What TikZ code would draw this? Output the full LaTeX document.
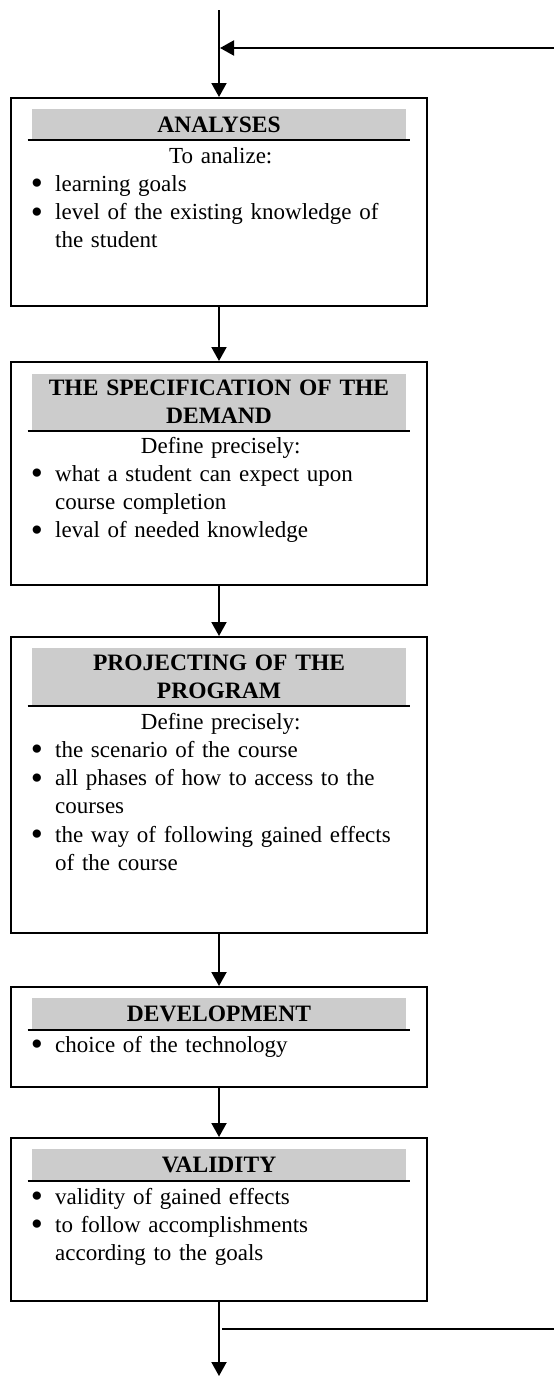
\documentclass[tikz,border=0pt]{standalone}
\usepackage{fontspec}
\setmainfont{Liberation Serif}
\usepackage{graphicx}
\usetikzlibrary{arrows.meta}
\usepackage{xcolor}
\definecolor{hdgray}{HTML}{CCCCCC}
\newcommand{\bitem}[1]{\noindent\hangindent=23.4pt\hangafter=1\makebox[23.4pt][l]{\hspace{-1pt}\smash{\raisebox{-3.5pt}{\scalebox{1.5}{\textbullet}}}}#1\par}

\tikzset{
  stage/.style={draw, line width=2pt, minimum width=416pt, inner sep=0pt},
  headbar/.style={fill=hdgray, text width=374.4pt, align=center, inner sep=0pt, font=\fontsize{23.5}{28.3}\selectfont\bfseries},
  body/.style={text width=378pt, align=left, inner sep=0pt, anchor=base west},
  rule/.style={line width=1.7pt},
  flow/.style={line width=2pt, -{Triangle[length=14pt, width=15pt]}},
  back/.style={line width=1.4pt},
}

\begin{document}
\begin{tikzpicture}[x=1pt, y=1pt, font=\fontsize{23}{28.3}\selectfont]
  \useasboundingbox (0,0) rectangle (554,-1376);

  \node[stage, minimum height=208pt] (analyses) at (219,-202) {};
  \node[headbar, minimum height=31pt] (analysesHead) at (219,-124.5) {ANALYSES};
  \draw[rule] ([xshift=-4pt]analysesHead.south west) -- ([xshift=4pt]analysesHead.south east);
  \node[body] (analysesText) at (31.6,-163) {{\centering To analize:\par}\bitem{learning goals}\bitem{level of the existing knowledge of\newline the student}};

  \node[stage, minimum height=223pt] (specification) at (219,-473.5) {};
  \node[headbar, minimum height=57pt] (specificationHead) at (219,-402) {THE SPECIFICATION OF THE\\ DEMAND};
  \draw[rule] ([xshift=-4pt]specificationHead.south west) -- ([xshift=4pt]specificationHead.south east);
  \node[body] (specificationText) at (31.6,-453) {{\centering Define precisely:\par}\bitem{what a student can expect upon\newline course completion}\bitem{leval of needed knowledge}};

  \node[stage, minimum height=296pt] (projecting) at (219,-785) {};
  \node[headbar, minimum height=58pt] (projectingHead) at (219,-677) {PROJECTING OF THE\\ PROGRAM};
  \draw[rule] ([xshift=-4pt]projectingHead.south west) -- ([xshift=4pt]projectingHead.south east);
  \node[body] (projectingText) at (31.6,-729) {{\centering Define precisely:\par}\bitem{the scenario of the course}\bitem{all phases of how to access to the\newline courses}\bitem{the way of following gained effects\newline of the course}};

  \node[stage, minimum height=100pt] (development) at (219,-1037) {};
  \node[headbar, minimum height=32pt] (developmentHead) at (219,-1013.5) {DEVELOPMENT};
  \draw[rule] ([xshift=-4pt]developmentHead.south west) -- ([xshift=4pt]developmentHead.south east);
  \node[body] (developmentText) at (31.6,-1052) {\bitem{choice of the technology}};

  \node[stage, minimum height=163pt] (validity) at (219,-1219.5) {};
  \node[headbar, minimum height=32pt] (validityHead) at (219,-1165) {VALIDITY};
  \draw[rule] ([xshift=-4pt]validityHead.south west) -- ([xshift=4pt]validityHead.south east);
  \node[body] (validityText) at (31.6,-1204) {\bitem{validity of gained effects}\bitem{to follow accomplishments\newline according to the goals}};

  \coordinate (entry) at (219,-10);
  \coordinate (loopin) at (554,-48);
  \coordinate (exit) at (219,-1376);
  \coordinate (loopout) at (554,-1329);

  \draw[flow] (entry) -- (analyses.north);
  \draw[flow] (loopin) -- ([xshift=1pt]entry |- loopin);
  \draw[flow] (analyses) -- (specification);
  \draw[flow] (specification) -- (projecting);
  \draw[flow] (projecting) -- (development);
  \draw[flow] (development) -- (validity);
  \draw[flow] (validity) -- (exit);
  \draw[back] (loopout) -- ([xshift=2.5pt]exit |- loopout);
\end{tikzpicture}
\end{document}
